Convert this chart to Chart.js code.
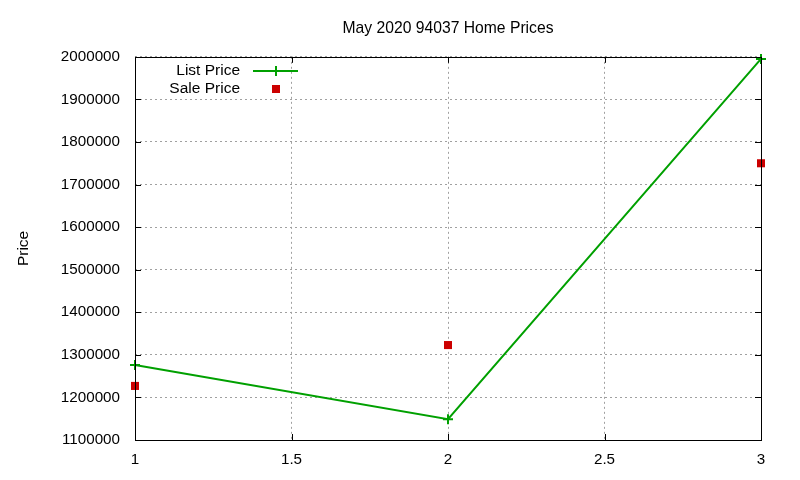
<!DOCTYPE html>
<html><head><meta charset="utf-8">
<script src="https://cdn.jsdelivr.net/npm/chart.js@4"></script>
<style>html,body{margin:0;padding:0;background:#fff}#wrap{width:800px;height:480px}</style>
</head><body><div id="wrap"><canvas id="c" width="800" height="480"></canvas></div>
<script>
const titleText = 'May 2020 94037 Home Prices';
const xValues = [1, 2, 3];
const listPrice = [1276000, 1149000, 1995000];
const salePrice = [1227000, 1323000, 1750000];
const seriesNames = ['List Price', 'Sale Price'];
const yAxisTitle = 'Price';

const FONT = 'Liberation Sans, Arial, sans-serif';
const GREEN = '#00a000';
const RED = '#cc0000';

const framePlugin = {
  id: 'frame',
  afterDatasetsDraw(chart) {
    const ctx = chart.ctx, a = chart.chartArea;
    ctx.save();
    ctx.strokeStyle = '#000'; ctx.lineWidth = 1; ctx.setLineDash([]);
    ctx.strokeRect(Math.round(a.left)+0.5, Math.round(a.top)+0.5, Math.round(a.right-a.left), Math.round(a.bottom-a.top));
    const L = 6;
    ctx.beginPath();
    chart.scales.x.ticks.forEach(t => {
      const x = Math.round(chart.scales.x.getPixelForValue(t.value))+0.5;
      ctx.moveTo(x, a.bottom); ctx.lineTo(x, a.bottom - L);
      ctx.moveTo(x, a.top); ctx.lineTo(x, a.top + L);
    });
    chart.scales.y.ticks.forEach(t => {
      const y = Math.round(chart.scales.y.getPixelForValue(t.value))+0.5;
      ctx.moveTo(a.left, y); ctx.lineTo(a.left + L, y);
      ctx.moveTo(a.right, y); ctx.lineTo(a.right - L, y);
    });
    ctx.stroke();
    // legend
    ctx.font = '15.5px ' + FONT;
    ctx.fillStyle = '#000';
    ctx.textAlign = 'right'; ctx.textBaseline = 'middle';
    ctx.fillText(seriesNames[0], 240, 71);
    ctx.fillText(seriesNames[1], 240, 89);
    ctx.strokeStyle = GREEN; ctx.lineWidth = 2;
    ctx.beginPath(); ctx.moveTo(253, 71); ctx.lineTo(298, 71);
    ctx.moveTo(276, 66); ctx.lineTo(276, 76); ctx.stroke();
    ctx.fillStyle = RED;
    ctx.fillRect(272, 85, 8, 8);
    ctx.restore();
  }
};

new Chart(document.getElementById('c'), {
  type: 'scatter',
  data: {
    datasets: [
      { label: seriesNames[0], data: xValues.map((x,i)=>({x, y: listPrice[i]})), showLine: true,
        borderColor: GREEN, backgroundColor: GREEN, borderWidth: 2, pointStyle: 'cross',
        pointRadius: 5, pointBorderWidth: 2, clip: false, order: 1 },
      { label: seriesNames[1], data: xValues.map((x,i)=>({x, y: salePrice[i]})), showLine: false,
        borderColor: RED, backgroundColor: RED, borderWidth: 0, pointStyle: 'rect',
        pointRadius: 5.7, clip: false, order: 2 }
    ]
  },
  options: {
    responsive: false, animation: false, devicePixelRatio: 1,
    layout: { padding: { top: 0, right: 39, left: 0, bottom: 0 } },
    plugins: {
      legend: { display: false },
      tooltip: { enabled: false },
      title: { display: true, text: titleText, fullSize: false, color: '#000',
        font: { family: FONT, size: 15.7, weight: 'normal' }, padding: { top: 19, bottom: 19 } }
    },
    scales: {
      x: { type: 'linear', min: 1, max: 3,
        afterFit(s) { s.height = 40; },
        ticks: { stepSize: 0.5, color: '#000', padding: 11, font: { family: FONT, size: 15.2 },
          callback: v => String(v) },
        grid: { color: '#a0a0a0', lineWidth: 1, drawTicks: false },
        border: { display: false, dash: [2, 3] } },
      y: { type: 'linear', min: 1100000, max: 2000000,
        afterFit(s) { s.width = 135; },
        ticks: { stepSize: 100000, color: '#000', padding: 15, font: { family: FONT, size: 15.2 },
          callback: v => String(v) },
        title: { display: true, text: yAxisTitle, color: '#000', font: { family: FONT, size: 15.5 }, padding: { top: 14, bottom: 0 } },
        grid: { color: '#a0a0a0', lineWidth: 1, drawTicks: false },
        border: { display: false, dash: [2, 3] } }
    }
  },
  plugins: [framePlugin]
});
</script></body></html>
